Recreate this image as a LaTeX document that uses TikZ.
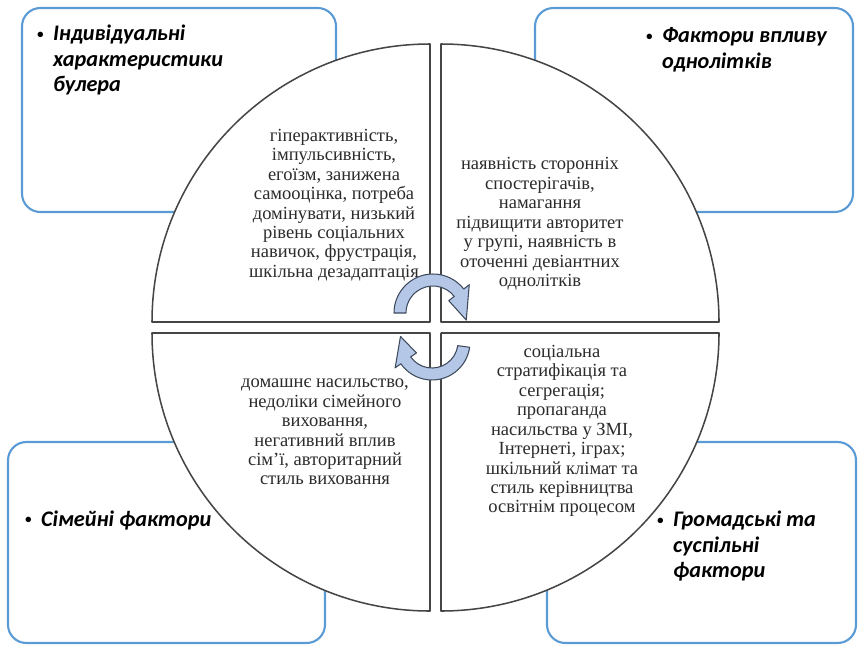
\documentclass[tikz,border=0pt]{standalone}
\usepackage{fontspec}
\setmainfont{Liberation Serif}
\newfontfamily\lblfont{Carlito}
\usetikzlibrary{calc}

\definecolor{boxblue}{HTML}{5B9BD5}
\definecolor{segline}{HTML}{454545}
\definecolor{arrowfill}{HTML}{B4C7E7}
\definecolor{arrowline}{HTML}{3F4A5C}
\definecolor{bodytext}{HTML}{2B2B2B}

\newcommand{\bulitem}[1]{\begin{tabular}{@{}l@{\hspace{8pt}}l@{}}\raisebox{2.2pt}{\fontsize{11}{11}\selectfont\textbullet} & #1\end{tabular}}

\begin{document}
\begin{tikzpicture}
    [x=0.3mm,y=0.3mm,line join=round,
     factorbox/.style={draw=boxblue,line width=1.8pt,rounded corners=5.5mm,fill=white},
     sector/.style={draw=segline,line width=1.3pt,fill=white},
     cyclearrow/.style={draw=arrowline,line width=0.9pt,fill=arrowfill},
     factortext/.style={font=\lblfont\fontsize{19}{21.5}\selectfont\bfseries\itshape,inner sep=0pt},
     sectortext/.style={align=center,text=bodytext,font=\fontsize{15.8}{16.6}\selectfont,inner sep=0pt}]
\useasboundingbox (0,0) rectangle (859,-646);
%the four factor boxes
\draw[factorbox] (22,-8) rectangle (336,-212);
\draw[factorbox] (535,-8) rectangle (853,-212);
\draw[factorbox] (8,-442) rectangle (325,-643);
\draw[factorbox] (547,-442) rectangle (856,-643);

\node[factortext,anchor=north west] (indiv) at (37,-23) {\bulitem{Індивідуальні\\&характеристики\\&булера}};
\node[factortext,anchor=north west] (peers) at (646,-25) {\bulitem{Фактори впливу\\&однолітків}};
\node[factortext,anchor=west] (family) at (25,-521) {\bulitem{Сімейні фактори}};
\node[factortext,anchor=north west] (society) at (657,-509) {\bulitem{Громадські та\\&суспільні\\&фактори}};

%quarters of the circle
\draw[sector] (430,-322) -- (430,-44) arc[start angle=90,end angle=180,radius=278] -- cycle;
\draw[sector] (441,-322) -- (719,-322) arc[start angle=0,end angle=90,radius=278] -- cycle;
\draw[sector] (430,-333) -- (152,-333) arc[start angle=180,end angle=270,radius=278] -- cycle;
\draw[sector] (441,-333) -- (441,-611) arc[start angle=270,end angle=360,radius=278] -- cycle;

\node[sectortext] (indivtxt) at (334,-205) {гіперактивність,\\імпульсивність,\\егоїзм, занижена\\самооцінка, потреба\\домінувати, низький\\рівень соціальних\\навичок, фрустрація,\\шкільна дезадаптація};
\node[sectortext] (peerstxt) at (540,-224) {наявність сторонніх\\спостерігачів,\\намагання\\підвищити авторитет\\у групі, наявність в\\оточенні девіантних\\однолітків};
\node[sectortext] (familytxt) at (325,-432) {домашнє насильство,\\недоліки сімейного\\виховання,\\негативний вплив\\сім{\char"27}ї, авторитарний\\стиль виховання};
\node[sectortext] (societytxt) at (562,-431) {соціальна\\стратифікація та\\сегрегація;\\пропаганда\\насильства у ЗМІ,\\Інтернеті, іграх;\\шкільний клімат та\\стиль керівництва\\освітнім процесом};

%cycle arrows in the middle
\coordinate (c1) at (433,-313);
\coordinate (c2) at (432,-342);
\filldraw[cyclearrow] ($(c1)+(180:39)$) arc[start angle=180,end angle=38,radius=39]
   -- ($(c1)+(38:46)$) -- ($(c1)+(-12:34)$) -- ($(c1)+(38:20)$) -- ($(c1)+(38:27)$)
   arc[start angle=38,end angle=180,radius=27] -- cycle;
\filldraw[cyclearrow] ($(c2)+(-8:38)$) arc[start angle=-8,end angle=-145,radius=38]
   -- ($(c2)+(-145:45)$) -- ($(c2)+(-190:32)$) -- ($(c2)+(-145:19)$) -- ($(c2)+(-145:26)$)
   arc[start angle=-145,end angle=-8,radius=26] -- cycle;
\end{tikzpicture}
\end{document}
